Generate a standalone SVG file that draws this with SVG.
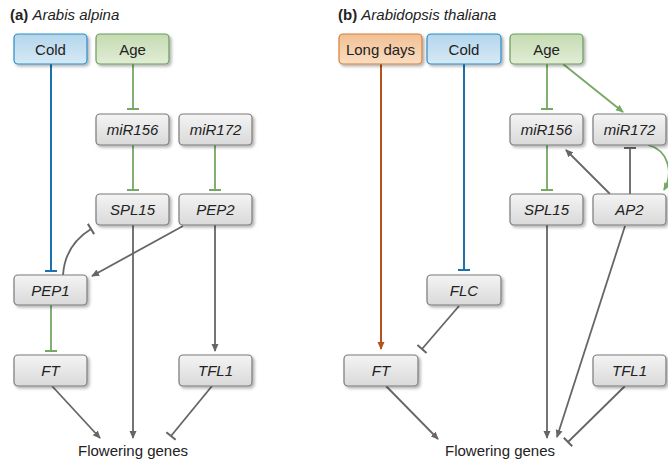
<svg xmlns="http://www.w3.org/2000/svg" width="668" height="466" viewBox="0 0 668 466">
<defs>
<linearGradient id="gGray" x1="0" y1="0" x2="0" y2="1"><stop offset="0" stop-color="#f4f4f4"/><stop offset="1" stop-color="#d9d9d9"/></linearGradient>
<linearGradient id="gBlue" x1="0" y1="0" x2="0" y2="1"><stop offset="0" stop-color="#b3d6ec"/><stop offset="1" stop-color="#d6e9f5"/></linearGradient>
<linearGradient id="gGreen" x1="0" y1="0" x2="0" y2="1"><stop offset="0" stop-color="#c5dbb2"/><stop offset="1" stop-color="#e1edd6"/></linearGradient>
<linearGradient id="gOrange" x1="0" y1="0" x2="0" y2="1"><stop offset="0" stop-color="#f2c093"/><stop offset="1" stop-color="#f9ddc2"/></linearGradient>
<filter id="sh" x="-20%" y="-20%" width="140%" height="160%"><feDropShadow dx="2" dy="2" stdDeviation="1.5" flood-color="#000" flood-opacity="0.3"/></filter>
<marker id="aGray" markerUnits="userSpaceOnUse" viewBox="0 0 8 8" refX="7" refY="4" markerWidth="8" markerHeight="8" orient="auto"><path d="M0,0.5 L8,4 L0,7.5 z" fill="#666"/></marker>
<marker id="aGreen" markerUnits="userSpaceOnUse" viewBox="0 0 8 8" refX="7" refY="4" markerWidth="8" markerHeight="8" orient="auto"><path d="M0,0.5 L8,4 L0,7.5 z" fill="#74a863"/></marker>
<marker id="aOrange" markerUnits="userSpaceOnUse" viewBox="0 0 8 8" refX="7" refY="4" markerWidth="8" markerHeight="8" orient="auto"><path d="M0,0.5 L8,4 L0,7.5 z" fill="#b5531a"/></marker>
<marker id="tGray" markerUnits="userSpaceOnUse" viewBox="-2 -7 4 14" refX="0" refY="0" markerWidth="4" markerHeight="14" orient="auto"><path d="M0,-6 L0,6" stroke="#666" stroke-width="2"/></marker>
<marker id="tGreen" markerUnits="userSpaceOnUse" viewBox="-2 -7 4 14" refX="0" refY="0" markerWidth="4" markerHeight="14" orient="auto"><path d="M0,-6 L0,6" stroke="#74a863" stroke-width="2"/></marker>
<marker id="tBlue" markerUnits="userSpaceOnUse" viewBox="-2 -7 4 14" refX="0" refY="0" markerWidth="4" markerHeight="14" orient="auto"><path d="M0,-6 L0,6" stroke="#1a72b0" stroke-width="2"/></marker>
</defs>
<style>
text{font-family:"Liberation Sans",Arial,sans-serif;font-size:15px;fill:#222}
.lbl{text-anchor:middle}
.it{font-style:italic}
.box{stroke:#7a7a7a;stroke-width:1.2;fill:url(#gGray);filter:url(#sh)}
.cold{stroke:#2a8bc9;fill:url(#gBlue)}
.age{stroke:#6a9c5a;fill:url(#gGreen)}
.ld{stroke:#d4803c;fill:url(#gOrange)}
.c{fill:none;stroke-width:1.8}
.gray{stroke:#666}
.green{stroke:#74a863}
.blue{stroke:#1a72b0;stroke-width:2}
.orange{stroke:#b5531a;stroke-width:2}
</style>

<g id="titles">
<text x="10" y="20"><tspan font-weight="bold">(a)</tspan> <tspan font-style="italic">Arabis alpina</tspan></text>
<text x="338" y="20"><tspan font-weight="bold">(b)</tspan> <tspan font-style="italic">Arabidopsis thaliana</tspan></text>
</g>

<g id="connectors">
<!-- panel a -->
<path class="c blue" d="M51,64 V271" marker-end="url(#tBlue)"/>
<path class="c green" d="M133,64 V109" marker-end="url(#tGreen)"/>
<path class="c green" d="M133,145 V190" marker-end="url(#tGreen)"/>
<path class="c green" d="M215,145 V190" marker-end="url(#tGreen)"/>
<path class="c gray" d="M63,275 Q65,245 91,229" marker-end="url(#tGray)"/>
<path class="c gray" d="M183,226 L92,276" marker-end="url(#aGray)"/>
<path class="c gray" d="M133,225 V438" marker-end="url(#aGray)"/>
<path class="c gray" d="M215,225 V351" marker-end="url(#aGray)"/>
<path class="c green" d="M51,305 V351" marker-end="url(#tGreen)"/>
<path class="c gray" d="M52,386 L100,438" marker-end="url(#aGray)"/>
<path class="c gray" d="M212,386 L171,436" marker-end="url(#tGray)"/>
<!-- panel b -->
<path class="c orange" d="M381,64 V349" marker-end="url(#aOrange)"/>
<path class="c blue" d="M464,64 V270" marker-end="url(#tBlue)"/>
<path class="c green" d="M547,64 V109" marker-end="url(#tGreen)"/>
<path class="c green" d="M563,64 L623,112" marker-end="url(#aGreen)"/>
<path class="c green" d="M547,145 V190" marker-end="url(#tGreen)"/>
<path class="c gray" d="M610,194 L566,150" marker-end="url(#aGray)"/>
<path class="c gray" d="M630,194 V148" marker-end="url(#tGray)"/>
<path class="c green" d="M648,145 C668,150 674,172 664,190" marker-end="url(#aGreen)"/>
<path class="c gray" d="M547,225 V438" marker-end="url(#aGray)"/>
<path class="c gray" d="M625,226 L557,437" marker-end="url(#aGray)"/>
<path class="c gray" d="M625,386 L568,442" marker-end="url(#tGray)"/>
<path class="c gray" d="M459,306 L422,349" marker-end="url(#tGray)"/>
<path class="c gray" d="M386,386 L438,439" marker-end="url(#aGray)"/>
</g>

<g id="a-cold"><rect class="box cold" x="14" y="34" width="73" height="30" rx="4"/><text class="lbl" x="50.5" y="54.5">Cold</text></g>
<g id="a-age"><rect class="box age" x="96" y="34" width="73" height="30" rx="4"/><text class="lbl" x="132.5" y="54.5">Age</text></g>
<g id="a-mir156"><rect class="box" x="96" y="114" width="73" height="31" rx="4"/><text class="lbl it" x="132.5" y="135">miR156</text></g>
<g id="a-mir172"><rect class="box" x="179" y="114" width="73" height="31" rx="4"/><text class="lbl it" x="215.5" y="135">miR172</text></g>
<g id="a-spl15"><rect class="box" x="96" y="194" width="73" height="31" rx="4"/><text class="lbl it" x="132.5" y="215">SPL15</text></g>
<g id="a-pep2"><rect class="box" x="179" y="194" width="73" height="31" rx="4"/><text class="lbl it" x="215.5" y="215">PEP2</text></g>
<g id="a-pep1"><rect class="box" x="14" y="275" width="73" height="30" rx="4"/><text class="lbl it" x="50.5" y="295.5">PEP1</text></g>
<g id="a-ft"><rect class="box" x="14" y="355" width="73" height="31" rx="4"/><text class="lbl it" x="50.5" y="376">FT</text></g>
<g id="a-tfl1"><rect class="box" x="179" y="355" width="73" height="31" rx="4"/><text class="lbl it" x="215.5" y="376">TFL1</text></g>
<g id="a-flowering"><text class="lbl" x="133" y="456">Flowering genes</text></g>

<g id="b-longdays"><rect class="box ld" x="339" y="34" width="83" height="30" rx="4"/><text class="lbl" x="380.5" y="54.5">Long days</text></g>
<g id="b-cold"><rect class="box cold" x="427" y="34" width="74" height="30" rx="4"/><text class="lbl" x="464" y="54.5">Cold</text></g>
<g id="b-age"><rect class="box age" x="510" y="34" width="73" height="30" rx="4"/><text class="lbl" x="546.5" y="54.5">Age</text></g>
<g id="b-mir156"><rect class="box" x="510" y="114" width="73" height="31" rx="4"/><text class="lbl it" x="546.5" y="135">miR156</text></g>
<g id="b-mir172"><rect class="box" x="593" y="114" width="73" height="31" rx="4"/><text class="lbl it" x="629.5" y="135">miR172</text></g>
<g id="b-spl15"><rect class="box" x="510" y="194" width="73" height="31" rx="4"/><text class="lbl it" x="546.5" y="215">SPL15</text></g>
<g id="b-ap2"><rect class="box" x="593" y="194" width="73" height="31" rx="4"/><text class="lbl it" x="629.5" y="215">AP2</text></g>
<g id="b-flc"><rect class="box" x="427" y="275" width="74" height="30" rx="4"/><text class="lbl it" x="464" y="295.5">FLC</text></g>
<g id="b-ft"><rect class="box" x="344" y="355" width="74" height="31" rx="4"/><text class="lbl it" x="381" y="376">FT</text></g>
<g id="b-tfl1"><rect class="box" x="593" y="355" width="73" height="31" rx="4"/><text class="lbl it" x="629.5" y="376">TFL1</text></g>
<g id="b-flowering"><text class="lbl" x="500" y="456">Flowering genes</text></g>
</svg>
